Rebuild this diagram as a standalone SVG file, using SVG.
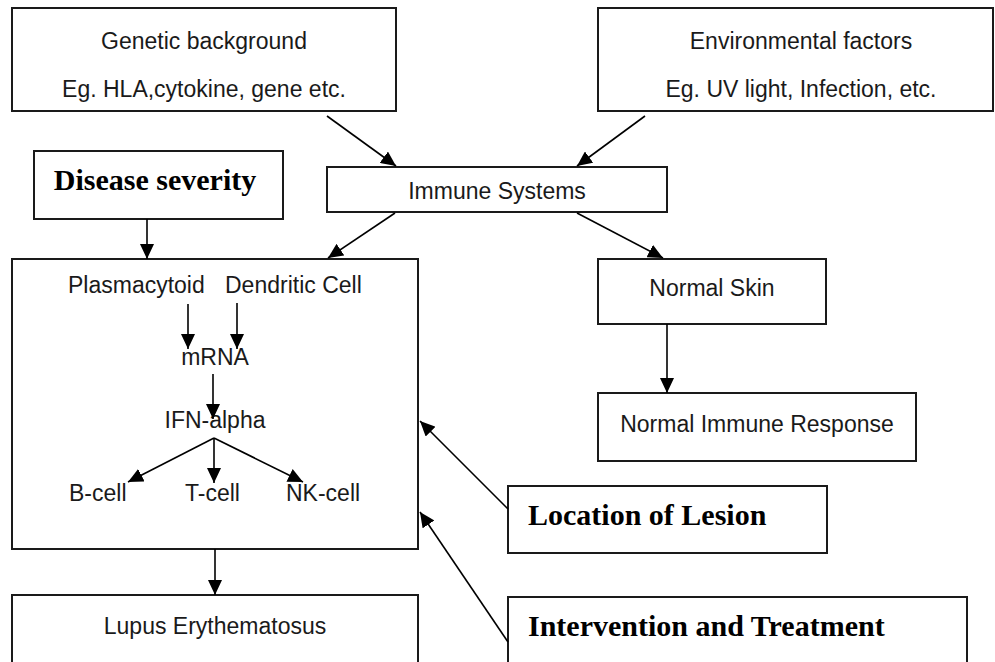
<svg xmlns="http://www.w3.org/2000/svg" width="995" height="662" viewBox="0 0 995 662">
<style>
.box{fill:#fff;stroke:#1a1a1a;stroke-width:2}
.s{font-family:"Liberation Sans",Arial,sans-serif;font-size:23px;fill:#1a1a1a}
.b{font-family:"Liberation Serif","Times New Roman",serif;font-size:30px;font-weight:bold;fill:#000}
.c{text-anchor:middle}
.ln{stroke:#000;stroke-width:1.6;fill:none;marker-end:url(#ah)}
</style>
<defs>
<marker id="ah" markerUnits="userSpaceOnUse" markerWidth="16" markerHeight="14" refX="15" refY="7" orient="auto">
<path d="M0,0 L15,7 L0,14 z" fill="#000"/>
</marker>
</defs>
<rect width="995" height="662" fill="#fff"/>
<g id="genetic">
<rect class="box" x="12" y="8" width="384" height="103"/>
<text class="s c" x="204" y="49">Genetic background</text>
<text class="s c" x="204" y="97">Eg. HLA,cytokine, gene etc.</text>
</g>
<g id="environmental">
<rect class="box" x="598" y="8" width="395" height="103"/>
<text class="s c" x="801" y="49">Environmental factors</text>
<text class="s c" x="801" y="97">Eg. UV light, Infection,  etc.</text>
</g>
<g id="severity">
<rect class="box" x="34" y="151" width="249" height="68"/>
<text class="b c" x="155" y="190">Disease severity</text>
</g>
<g id="immune">
<rect class="box" x="327" y="167" width="340" height="45"/>
<text class="s c" x="497" y="199">Immune Systems</text>
</g>
<g id="pathway">
<rect class="box" x="12" y="259" width="406" height="290"/>
<text class="s" x="68" y="293">Plasmacytoid</text>
<text class="s" x="225" y="293">Dendritic Cell</text>
<text class="s c" x="215" y="365">mRNA</text>
<text class="s c" x="215" y="428">IFN-alpha</text>
<text class="s" x="69" y="501">B-cell</text>
<text class="s" x="185" y="501">T-cell</text>
<text class="s" x="286" y="501">NK-cell</text>
</g>
<g id="normalskin">
<rect class="box" x="598" y="259" width="228" height="65"/>
<text class="s c" x="712" y="296">Normal Skin</text>
</g>
<g id="normalresponse">
<rect class="box" x="598" y="393" width="318" height="68"/>
<text class="s c" x="757" y="432">Normal Immune Response</text>
</g>
<g id="location">
<rect class="box" x="508" y="486" width="319" height="67"/>
<text class="b" x="528" y="525">Location of Lesion</text>
</g>
<g id="lupus">
<rect class="box" x="12" y="595" width="406" height="80"/>
<text class="s c" x="215" y="634">Lupus Erythematosus</text>
</g>
<g id="intervention">
<rect class="box" x="508" y="597" width="459" height="80"/>
<text class="b" x="528" y="636">Intervention and Treatment</text>
</g>
<g id="connectors">
<line class="ln" x1="327" y1="116" x2="396" y2="166"/>
<line class="ln" x1="645" y1="116" x2="577" y2="166"/>
<line class="ln" x1="395" y1="213" x2="328" y2="258"/>
<line class="ln" x1="577" y1="213" x2="663" y2="258"/>
<line class="ln" x1="147" y1="219" x2="147" y2="259"/>
<line class="ln" x1="667" y1="324" x2="667" y2="393"/>
<line class="ln" x1="215" y1="549" x2="215" y2="595"/>
<line class="ln" x1="508" y1="509" x2="420" y2="421"/>
<line class="ln" x1="508" y1="642" x2="420" y2="512"/>
<line class="ln" x1="188" y1="304" x2="188" y2="349"/>
<line class="ln" x1="237" y1="303" x2="237" y2="349"/>
<line class="ln" x1="213" y1="374" x2="213" y2="419"/>
<line class="ln" x1="214" y1="438" x2="128" y2="482"/>
<line class="ln" x1="214" y1="438" x2="214" y2="483"/>
<line class="ln" x1="214" y1="438" x2="303" y2="482"/>
</g>
</svg>
